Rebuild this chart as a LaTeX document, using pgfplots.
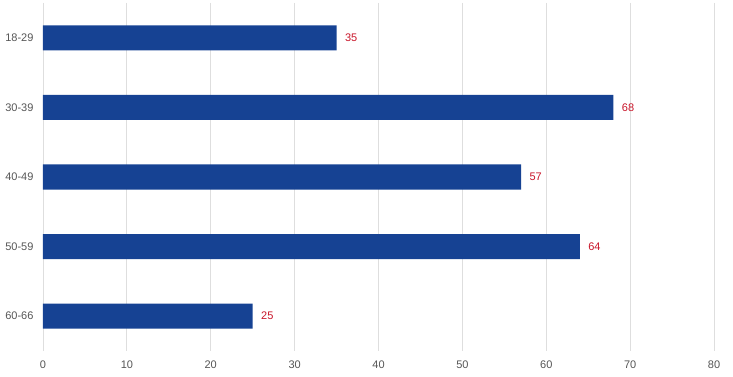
\documentclass[border=0pt]{standalone}
\usepackage{pgfplots}
\pgfplotsset{compat=1.18}
\usepackage{fontspec}
\setmainfont{Liberation Sans}
\definecolor{barblue}{RGB}{22,66,147}
\definecolor{lblred}{RGB}{200,20,40}
\definecolor{tickgray}{RGB}{85,85,85}
\definecolor{gridgray}{RGB}{222,222,222}
\begin{document}
\begin{tikzpicture}
\useasboundingbox (-43pt,-26pt) rectangle (690pt,351pt);
\begin{axis}[
  at={(0pt,0pt)}, anchor=south west,
  scale only axis,
  width=671pt, height=348pt,
  xbar,
  bar width=0.36,
  xmin=0, xmax=80,
  ymin=-0.5, ymax=4.5,
  y dir=reverse,
  xtick={0,10,...,80},
  ytick={0,1,2,3,4},
  yticklabels={18-29,30-39,40-49,50-59,60-66},
  axis line style={draw=none},
  major tick length=0pt,
  xmajorgrids,
  grid style={gridgray, line width=0.8pt},
  tick label style={font=\fontsize{11}{13}\selectfont, text=tickgray},
  /pgf/number format/assume math mode=true,
  xticklabel style={yshift=-6pt},
  yticklabel style={xshift=-6pt},
  nodes near coords,
  every node near coord/.append style={font=\fontsize{11}{13}\selectfont, text=lblred, xshift=5pt},
]
\addplot[fill=barblue, draw=none] coordinates {(35,0) (68,1) (57,2) (64,3) (25,4)};
\end{axis}
\end{tikzpicture}
\end{document}
